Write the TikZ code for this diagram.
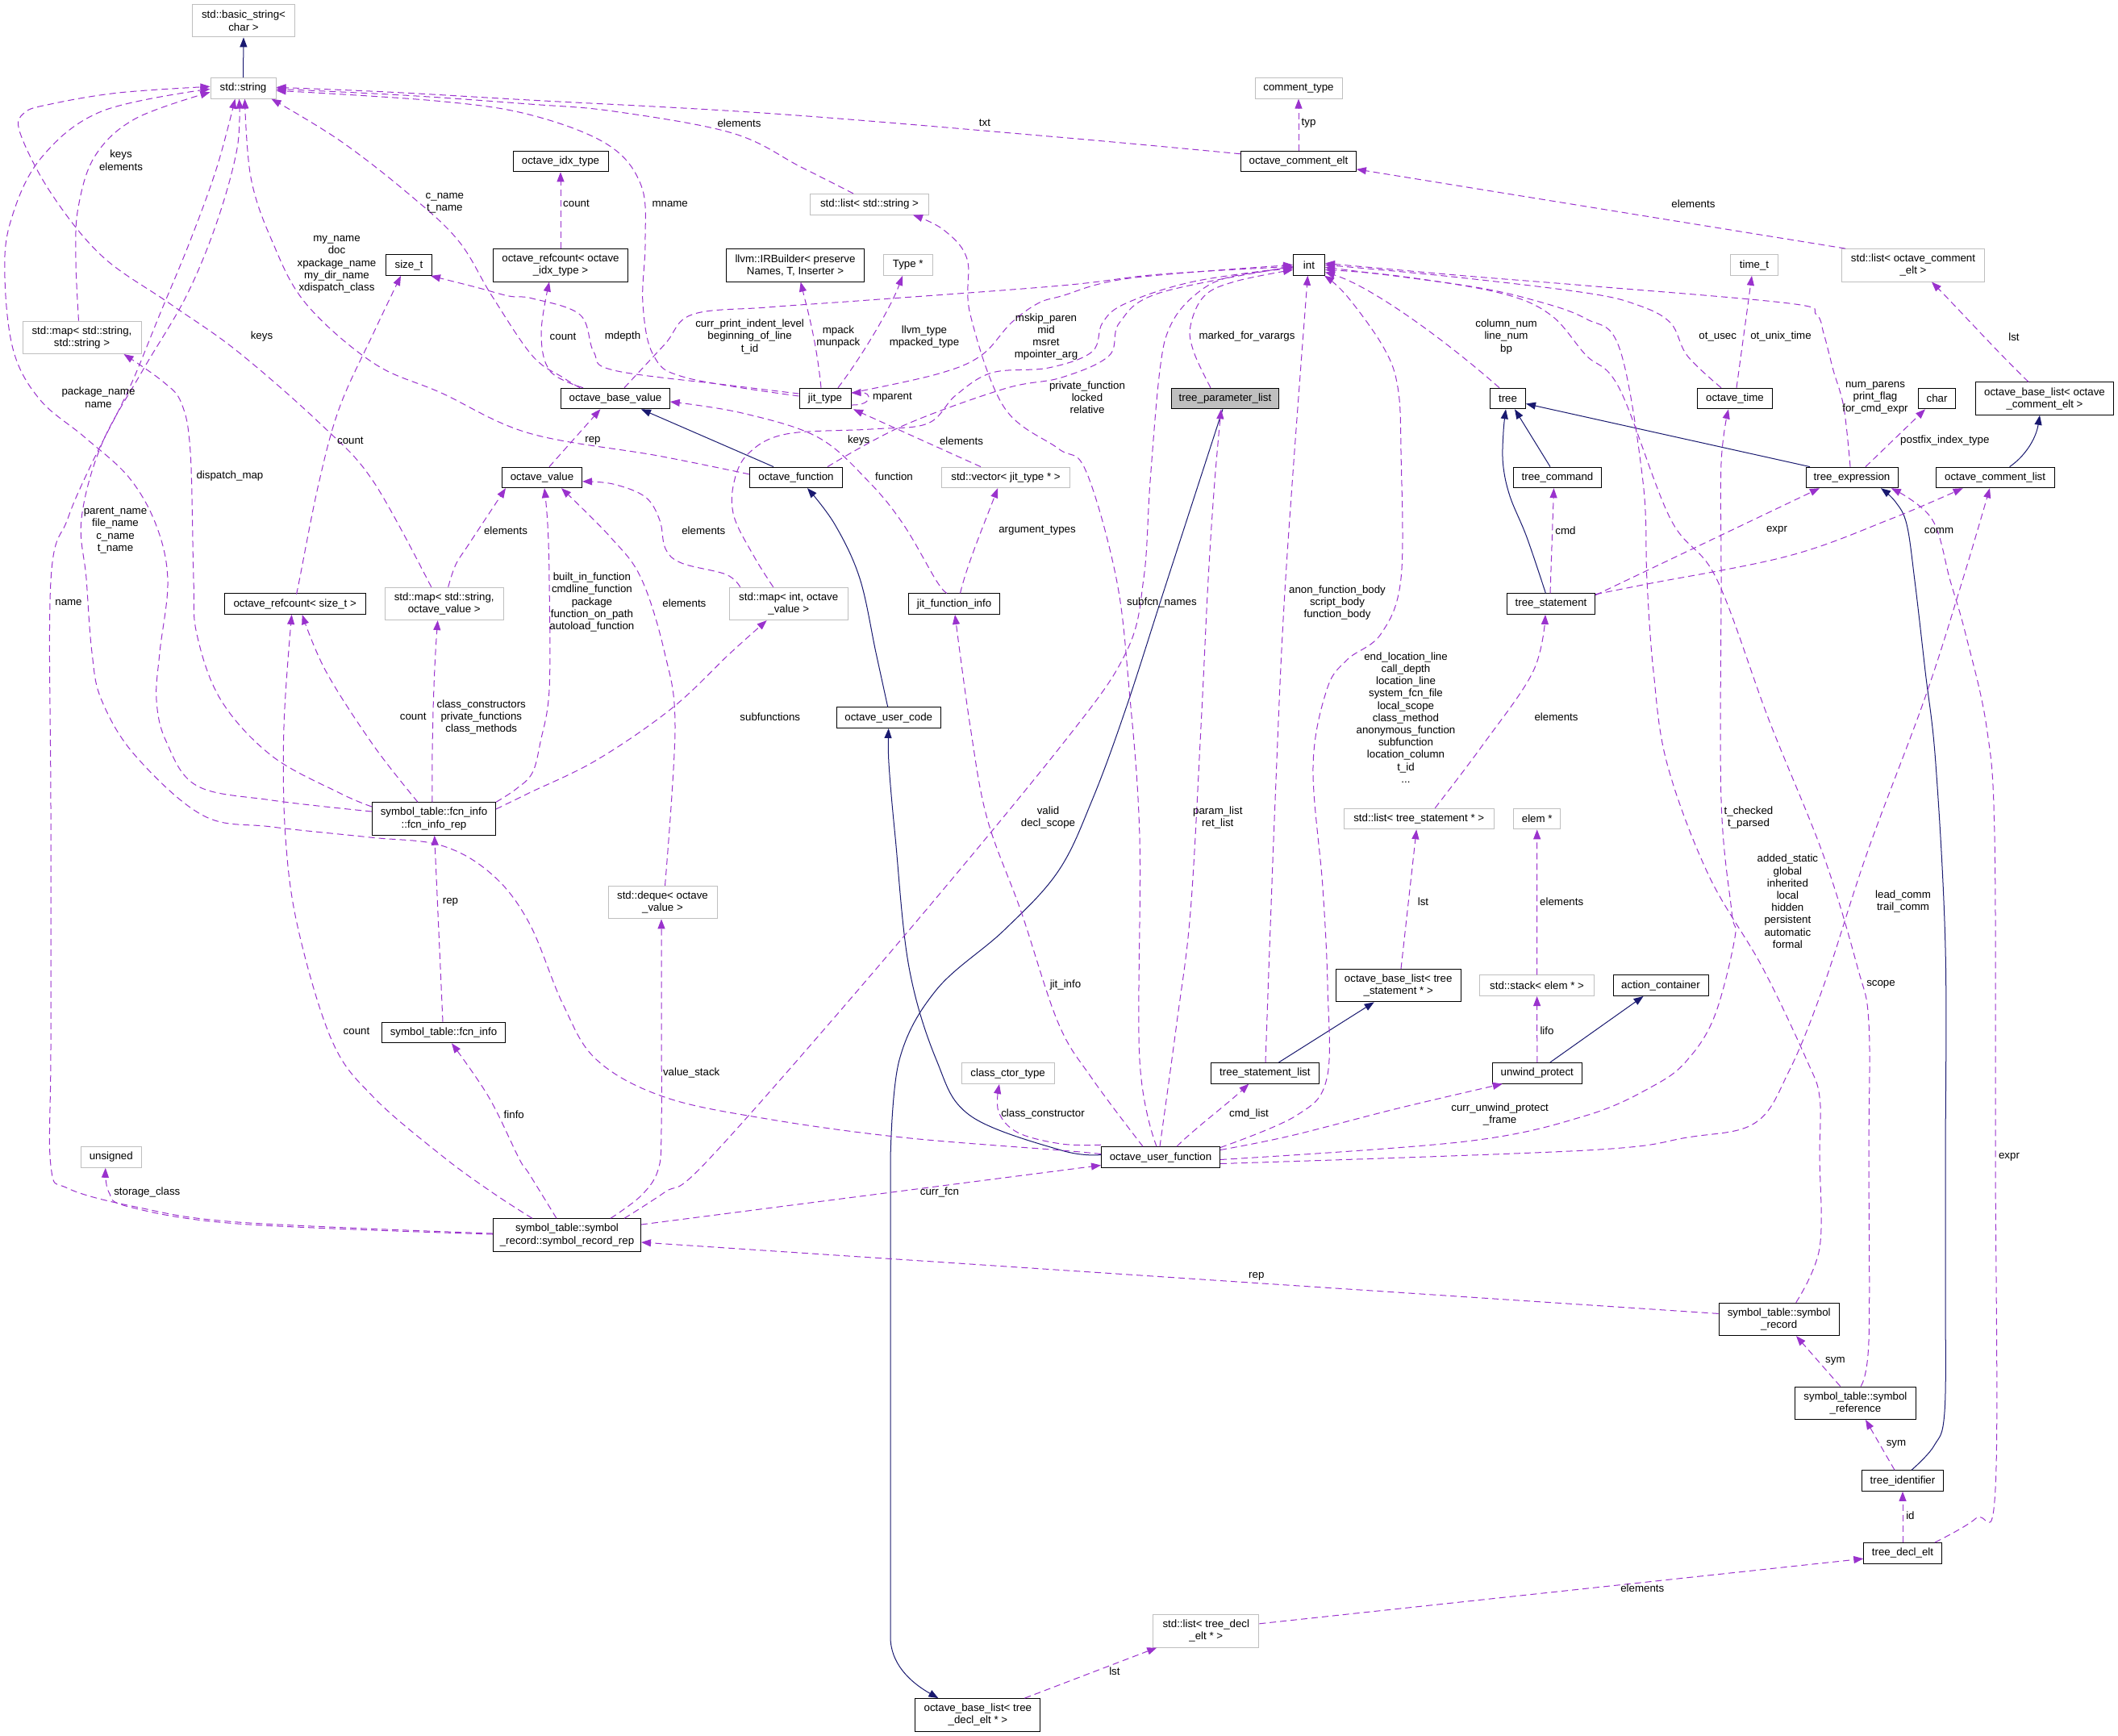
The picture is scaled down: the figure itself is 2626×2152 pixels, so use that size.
\documentclass[tikz,border=0pt]{standalone}
\usepackage{fontspec}
\setmainfont{Liberation Sans}
\usetikzlibrary{arrows.meta}
\definecolor{usecol}{HTML}{9A32CD}
\definecolor{navyc}{HTML}{191970}
\definecolor{boxgray}{HTML}{BFBFBF}
\tikzset{
 every node/.style={font=\fontsize{13.3}{15.2}\selectfont},
 cls/.style={draw=black, line width=1pt, inner sep=0pt, align=center, minimum height=25.6pt},
 ext/.style={cls, draw=boxgray},
 two/.style={minimum height=40.4pt},
 lab/.style={inner sep=0pt, align=center},
 use/.style={draw=usecol, line width=1pt, dash pattern=on 8pt off 5pt, -{Triangle[length=12pt,width=9pt]}},
 inh/.style={draw=navyc, line width=1pt, -{Triangle[length=12pt,width=9pt]}},
 sm/.style={smooth, tension=0.6},
}
\begin{document}
\begin{tikzpicture}[x=1pt,y=-1pt]
\fill[white] (0,0) rectangle (2626,2152);
\useasboundingbox (0,0) rectangle (2626,2152);
% ---------- nodes ----------
\node[ext,two,minimum width=127] (bstr) at (302,25.7) {std::basic\_string<\\char >};
\node[ext,minimum width=81] (str) at (301.5,109.3) {std::string};
\node[ext,two,minimum width=147] (mapss) at (101.5,418.3) {std::map< std::string,\\std::string >};
\node[cls,minimum width=57] (sizet) at (507,328.6) {size\_t};
\node[cls,minimum width=118] (idx) at (695,200) {octave\_idx\_type};
\node[cls,two,minimum width=167] (rcidx) at (695,328.8) {octave\_refcount< octave\\\_idx\_type >};
\node[ext,minimum width=147] (liststr) at (1078,253.2) {std::list< std::string >};
\node[cls,two,minimum width=170.5] (irb) at (986,328.8) {llvm::IRBuilder< preserve\\Names, T, Inserter >};
\node[ext,minimum width=60.6] (typep) at (1125.7,328.6) {Type *};
\node[cls,minimum width=134.6] (obv) at (763,494) {octave\_base\_value};
\node[cls,minimum width=64] (jit) at (1023,494) {jit\_type};
\node[cls,minimum width=115] (ofn) at (987,591.9) {octave\_function};
\node[ext,minimum width=159] (vecjit) at (1247,591.9) {std::vector< jit\_type * >};
\node[cls,minimum width=99] (ov) at (672,591.9) {octave\_value};
\node[ext,minimum width=108] (ctype) at (1610,109.3) {comment\_type};
\node[cls,minimum width=142.7] (celt) at (1610,199.8) {octave\_comment\_elt};
\node[cls,minimum width=39] (int) at (1623,328.4) {int};
\node[cls,fill=boxgray,minimum width=133] (tpl) at (1519,494) {tree\_parameter\_list};
\node[cls,minimum width=44] (tree) at (1869.5,494) {tree};
\node[cls,minimum width=108.6] (tcmd) at (1931,591.9) {tree\_command};
\node[ext,minimum width=59] (timet) at (2175,328.6) {time\_t};
\node[ext,two,minimum width=177.6] (listce) at (2372,328.8) {std::list< octave\_comment\\\_elt >};
\node[cls,minimum width=93.4] (otime) at (2151,494) {octave\_time};
\node[cls,minimum width=46.3] (char) at (2401.6,494) {char};
\node[cls,two,minimum width=171] (blce) at (2535,494.1) {octave\_base\_list< octave\\\_comment\_elt >};
\node[cls,minimum width=114] (texpr) at (2296,591.9) {tree\_expression};
\node[cls,minimum width=147] (clist) at (2473.6,591.9) {octave\_comment\_list};
\node[cls,minimum width=175] (rcsize) at (365.7,748.7) {octave\_refcount< size\_t >};
\node[ext,two,minimum width=147] (mapsov) at (550.7,748.4) {std::map< std::string,\\octave\_value >};
\node[cls,two,minimum width=153] (fir) at (538,1015) {symbol\_table::fcn\_info\\::fcn\_info\_rep};
\node[cls,minimum width=153.6] (fi) at (550,1280) {symbol\_table::fcn\_info};
\node[ext,minimum width=74.4] (unsig) at (137.8,1434.5) {unsigned};
\node[ext,two,minimum width=147] (mapiov) at (977.7,748.4) {std::map< int, octave\\\_value >};
\node[cls,minimum width=113] (jfi) at (1183,748.7) {jit\_function\_info};
\node[cls,minimum width=128.8] (ouc) at (1101.7,889.7) {octave\_user\_code};
\node[ext,two,minimum width=135] (deque) at (821.5,1118.6) {std::deque< octave\\\_value >};
\node[ext,minimum width=115] (cctor) at (1249.6,1330.6) {class\_ctor\_type};
\node[cls,minimum width=109.4] (tstmt) at (1923,748.7) {tree\_statement};
\node[ext,minimum width=185.6] (liststmt) at (1759.2,1015) {std::list< tree\_statement * >};
\node[ext,minimum width=58.5] (elem) at (1905.7,1015) {elem *};
\node[cls,two,minimum width=155] (blstmt) at (1733.7,1221.6) {octave\_base\_list< tree\\\_statement * >};
\node[ext,minimum width=141.7] (stack) at (1905.6,1221.7) {std::stack< elem * >};
\node[cls,minimum width=134] (tsl) at (1568.4,1330.3) {tree\_statement\_list};
\node[cls,minimum width=111] (unwind) at (1905.8,1330.3) {unwind\_protect};
\node[cls,minimum width=147] (ouf) at (1439,1434.5) {octave\_user\_function};
\node[cls,minimum width=118] (actc) at (2059,1221.7) {action\_container};
\node[cls,two,minimum width=183] (srr) at (703,1531) {symbol\_table::symbol\\\_record::symbol\_record\_rep};
\node[cls,two,minimum width=155] (bldecl) at (1212.4,2125.8) {octave\_base\_list< tree\\\_decl\_elt * >};
\node[ext,two,minimum width=131] (listdecl) at (1495.3,2021.8) {std::list< tree\_decl\\\_elt * >};
\node[cls,two,minimum width=149.4] (srec) at (2205.7,1635.4) {symbol\_table::symbol\\\_record};
\node[cls,two,minimum width=149.4] (sref) at (2300.4,1739.2) {symbol\_table::symbol\\\_reference};
\node[cls,minimum width=100.2] (tid) at (2359,1835.6) {tree\_identifier};
\node[cls,minimum width=96.4] (tdecl) at (2359,1925.2) {tree\_decl\_elt};
% ---------- inheritance ----------
\draw[inh] (str.north) -- (bstr.south);
\draw[inh] ([xshift=-28]ofn.north) -- ([xshift=32]obv.south);
\draw[inh] plot[sm] coordinates {([xshift=-1]ouc.north) (1086,809) (1066,717) (1035,650) ([xshift=14]ofn.south)};
\draw[inh] plot[sm] coordinates {([yshift=3]ouf.west) (1316,1426) (1203,1383) (1161,1314) (1127,1199) (1110,1038) (1102,946) (ouc.south)};
\draw[inh] ([xshift=-9]tcmd.north) -- ([xshift=8.5]tree.south);
\draw[inh] plot[sm] coordinates {([xshift=-6.6]tstmt.north) (1893,666) (1872,615) (1863.5,575) (1864,535) ([xshift=-2.5]tree.south)};
\draw[inh] ([xshift=-52]texpr.north) -- ([yshift=-6.5]tree.east);
\draw[inh] ([xshift=18]clist.north) .. controls (2510,566) and (2524,545) .. ([xshift=-6]blce.south);
\draw[inh] ([xshift=17]tsl.north) -- ([xshift=-30]blstmt.south);
\draw[inh] ([xshift=16]unwind.north) -- ([xshift=-21.5]actc.south);
\draw[inh] plot[sm] coordinates {([xshift=11]tid.north) (2398,1792) (2411,1750) (2412,1600) (2412,1437) (2412,1176) (2400,947) (2387,832) (2374,720) (2364,650) (2350,622) ([xshift=36]texpr.south)};
\draw[inh] plot[sm] coordinates {([xshift=-3]tpl.south) (1447,720) (1396,878) (1354,992) (1312,1080) (1245,1153) (1161,1227) (1115,1314) (1104,1437)} -- (1104,2029) .. controls (1104,2062) and (1128,2085) .. ([xshift=-49]bldecl.north);
% ---------- usage ----------
\draw[use] plot[sm] coordinates {([xshift=-4]mapss.north) (94,321) (97,257) (118,193) (168,147) ([yshift=-5]str.west)};
\draw[use] plot[sm] coordinates {([yshift=9]fir.west) (337,992) (244,974) (206,919) (194,868) (198,809) (208,720) (194,652) (160,592) (105,542) (50,496) (17,436) (6,344) (13,275) (50,197) (126,138) ([yshift=-1]str.west)};
\draw[use] plot[sm] coordinates {([yshift=15]fir.west) (421,983) (337,937) (274,868) (244,786) (240,717) (236,560) (225,500) (202,473) ([xshift=52]mapss.south)};
\draw[use] plot[sm] coordinates {([yshift=2]srr.west) (295,1515) (168,1496) (84,1473) (63,1445) (63,1300) (63,1000) (63,720) (84,643) (114,574) (160,482) (198,390) (236,298) (269,207) ([xshift=-10]str.south)};
\draw[use] plot[sm] coordinates {([yshift=1]srr.west) (295,1517) (160,1496) (135,1478) ([xshift=-7]unsig.south)};
\draw[use] plot[sm] coordinates {([yshift=4]ouf.west) (1316,1426) (1119,1410) (951,1387) (824,1360) (740,1314) (698,1245) (656,1144) (610,1084) (547,1048) (459,1038) (337,1025) (252,1011) (168,937) (126,868) (114,809) (107,717) (101,643) (126,551) (177,459) (231,367) (269,275) (294,184) ([xshift=-5]str.south)};
\draw[use] plot[sm] coordinates {([xshift=-16]mapsov.north) (463,597) (400,528) (295,436) (210,376) (126,317) (63,239) (25,165) (30,140) (63,129) (147,115) ([yshift=2]str.west)};
\draw[use] plot[sm] coordinates {([xshift=-20]liststr.north) (993,207) (908,165) (761,138) (656,129) (500,118) ([yshift=-1]str.east)};
\draw[use] plot[sm] coordinates {([yshift=9]celt.west) (1312,170) (960,141) (656,124) (480,114) ([yshift=1]str.east)};
\draw[use] plot[sm] coordinates {([yshift=3]jit.west) (850,468) (810,440) (797,376) (800,300) (795,230) (753,179) (656,142) (540,125) ([yshift=-3]str.east)};
\draw[use] plot[sm] coordinates {([xshift=-44]obv.north) (698,468) (660,441) (610,367) (568,298) (505,239) (421,174) ([xshift=-6]str.south east)};
\draw[use] plot[sm] coordinates {([yshift=4]ofn.west) (816,565) (656,537) (547,487) (463,450) (379,376) (337,298) (311,220) ([xshift=2]str.south)};
\draw[use] plot[sm] coordinates {([xshift=2]rcsize.north) (371,720) (395,600) (421,505) (463,413) ([xshift=-10]sizet.south)};
\draw[use] plot[sm] coordinates {([yshift=6]jit.west) (908,478) (761,459) (736,436) (719,390) (660,370) (631,367) (590,356) ([xshift=-2]sizet.south east)};
\draw[use] (rcidx.north) -- (idx.south);
\draw[use] plot[sm] coordinates {([xshift=-40]obv.north) (682,460) (671,413) ([xshift=-14]rcidx.south)};
\draw[use] plot[sm] coordinates {([xshift=11]obv.north) (824,427) (858,390) (951,381) (1077,372) (1316,354) (1438,340) ([yshift=-2]int.west)};
\draw[use] ([xshift=9]ov.north) -- ([xshift=-18.6]obv.south);
\draw[use] plot[sm] coordinates {([xshift=-9]jfi.north) (1161,720) (1120,650) (1077,597) (1014,542) (920,512) ([yshift=-4]obv.east)};
\draw[use] ([xshift=-5]jit.north) .. controls (1012,420) and (1000,380) .. ([xshift=6.7]irb.south);
\draw[use] ([xshift=16]jit.north) .. controls (1070,440) and (1105,380) .. ([xshift=-6.7]typep.south);
\draw[use] ([yshift=-8]jit.east) .. controls (1082,503) and (1082,486) .. ([yshift=7]jit.east);
\draw[use] ([xshift=-31]vecjit.north) -- ([xshift=35]jit.south);
\draw[use] ([xshift=7.5]jfi.north) .. controls (1199,700) and (1220,650) .. ([xshift=-10]vecjit.south);
\draw[use] plot[sm] coordinates {([xshift=-22]ouf.north) (1354,1337) (1312,1268) (1266,1130) (1224,1015) (1203,901) ([xshift=1]jfi.south)};
\draw[use] plot[sm] coordinates {([yshift=2]ouf.north west) (1316,1418) (1262,1404) (1238,1378) ([xshift=-10.6]cctor.south)};
\draw[use] plot[sm] coordinates {([xshift=5]mapsov.north) (565,700) (581,675) (612,628) ([xshift=-45]ov.south)};
\draw[use] plot[sm] coordinates {(fir.north east) (640,978) (660,958) (670,920) (681,855) (681,720) (679,650) ([xshift=3]ov.south)};
\draw[use] plot[sm] coordinates {([yshift=12]fir.east) (656,983) (740,942) (833,878) (905,810) ([xshift=-27]mapiov.south)};
\draw[use] ([xshift=-2]fir.north) .. controls (535,920) and (538,830) .. ([xshift=-8]mapsov.south);
\draw[use] plot[sm] coordinates {([xshift=-20]fir.north) (463,924) (404,832) ([xshift=9]rcsize.south)};
\draw[use] plot[sm] coordinates {([xshift=-43]srr.north) (610,1478) (547,1432) (463,1360) (412,1291) (370,1153) (354,1038) (352,901) ([xshift=-4]rcsize.south)};
\draw[use] plot[sm] coordinates {([xshift=-13]srr.north) (656,1455) (644,1437) (606,1360) ([xshift=10]fi.south)};
\draw[use] plot[sm] coordinates {([xshift=54]srr.north) (795,1482) (816,1450) (820,1400) (820,1250) ([xshift=-1.5]deque.south)};
\draw[use] plot[sm] coordinates {([xshift=71]srr.north) (824,1478) (879,1437) (1100,1185) (1316,924) (1396,809) (1418,717) (1426,597) (1438,459) (1451,404) (1480,367) (1522,344) ([yshift=-4]int.west)};
\draw[use] ([yshift=13]srr.east) -- ([yshift=-10]ouf.west);
\draw[use] ([yshift=7]srec.west) -- ([yshift=-9]srr.east);
\draw[use] ([xshift=-18.7]sref.north) -- ([xshift=21.3]srec.south);
\draw[use] ([xshift=-10]tid.north) -- ([xshift=12.6]sref.south);
\draw[use] (tdecl.north) -- (tid.south);
\draw[use] ([yshift=9]listdecl.east) -- ([yshift=-7]tdecl.west);
\draw[use] ([xshift=58]bldecl.north) -- ([xshift=-61]listdecl.south);
\draw[use] ([xshift=3.3]blstmt.north) -- ([xshift=-3]liststmt.south);
\draw[use] (unwind.north) -- (stack.south);
\draw[use] (stack.north) -- (elem.south);
\draw[use] ([xshift=20]ouf.north) .. controls (1480,1400) and (1520,1370) .. ([xshift=-20]tsl.south);
\draw[use] plot[sm] coordinates {([yshift=9]ouf.east) (1600,1408) (1733,1374) ([xshift=-43]unwind.south)};
\draw[use] plot[sm] coordinates {([xshift=0.6]tsl.north) (1581,992) (1594,717) ([xshift=-1.6]int.south)};
\draw[use] plot[sm] coordinates {([yshift=12]ouf.east) (1607,1383) (1645,1337) (1646,1222) (1640,1100) (1628,950) (1645,855) (1670,818) (1712,786) (1737,717) (1737,560) (1733,480) (1715,430) (1670,367) ([xshift=19]int.south)};
\draw[use] ([xshift=-10.5]tree.north) .. controls (1790,420) and (1700,355) .. ([yshift=-9]int.east);
\draw[use] plot[sm] coordinates {([xshift=-18]tpl.north) (1480,436) (1476,404) (1493,367) (1531,349) ([yshift=-6]int.west)};
\draw[use] plot[sm] coordinates {([yshift=7]jit.east) (1161,464) (1216,441) (1254,400) (1287,376) (1316,367) (1400,345) (int.west)};
\draw[use] plot[sm] coordinates {([xshift=39]ofn.north) (1119,528) (1245,482) (1316,468) (1375,441) (1388,400) (1438,363) ([yshift=-2]int.west)};
\draw[use] plot[sm] coordinates {([xshift=-19]mapiov.north) (935,690) (910,640) (910,598) (928,562) (975,538) (1080,532) (1150,525) (1185,490) (1230,462) (1300,456) (1354,436) (1367,400) (1396,376) (1480,349) ([yshift=-3]int.west)};
\draw[use] plot[sm] coordinates {([xshift=-5]ouf.north) (1413,1314) (1413,1038) (1400,855) (1384,717) (1346,583) (1312,556) (1245,505) (1203,390) (1199,321) (1170,285) ([xshift=54]liststr.south)};
\draw[use] plot[sm] coordinates {([xshift=-1]ouf.north) (1459,1268) (1476,1130) (1489,901) (1498,718) (1506,597) ([xshift=-5]tpl.south)};
\draw[use] ([yshift=11]tstmt.east) -- ([xshift=-40]texpr.south);
\draw[use] plot[sm] coordinates {([yshift=12]tstmt.east) (2042,724) (2218,689) (2345,643) ([xshift=-40]clist.south)};
\draw[use] ([xshift=-1]tstmt.north) -- ([xshift=-4.5]tcmd.south);
\draw[use] plot[sm] coordinates {([xshift=20]liststmt.north) (1838,924) (1901,832) ([xshift=-7]tstmt.south)};
\draw[use] plot[sm] coordinates {([xshift=-2]texpr.north) (2286,505) (2273,459) (2261,413) (2252,390) (2218,376) (1966,354) (1817,342) ([yshift=2]int.east)};
\draw[use] ([xshift=17]texpr.north) -- ([xshift=-14.6]char.south);
\draw[use] ([xshift=2]otime.north) -- ([xshift=-3]timet.south);
\draw[use] plot[sm] coordinates {([xshift=-17]otime.north) (2092,441) (2071,400) (2030,378) (1966,363) (1800,343) (int.east)};
\draw[use] ([xshift=-20]blce.north) .. controls (2480,440) and (2430,385) .. ([xshift=23]listce.south);
\draw[use] ([xshift=-84]listce.north) -- ([yshift=-10]celt.east);
\draw[use] (celt.north) -- (ctype.south);
\draw[use] plot[sm] coordinates {([xshift=21]srec.north) (2256,1547) (2256,1432) (2256,1360) (2240,1314) (2185,1199) (2118,1084) (2067,947) (2050,832) (2042,720) (2037,597) (2008,432) (1966,395) (1901,372) (1817,354) ([yshift=-3]int.east)};
\draw[use] plot[sm] coordinates {([xshift=6.6]sref.north) (2317,1662) (2317,1432) (2317,1268) (2303,1199) (2261,1061) (2193,892) (2128,717) (2071,643) (2008,482) (1966,440) (1922,390) (1859,363) (1733,342) ([yshift=-6]int.east)};
\draw[use] plot[sm] coordinates {([yshift=-3]ouf.east) (1817,1415) (1966,1383) (2050,1346) (2092,1314) (2126,1259) (2151,1162) (2147,1130) (2134,992) (2134,720) (2134,574) ([xshift=-8]otime.south)};
\draw[use] plot[sm] coordinates {([yshift=-8]ouf.east) (1966,1426) (2092,1410) (2176,1392) (2218,1328) (2261,1222) (2315,1057) (2387,864) (2433,720) ([xshift=-6.6]clist.south)};
\draw[use] plot[sm] coordinates {([xshift=40]tdecl.north) (2450,1882) (2474,1845) (2474,1432) (2473,1038) (2463,901) (2437,786) (2418,720) (2395,643) ([xshift=48.8]texpr.south)};
\draw[use] plot[sm] coordinates {([xshift=3]deque.north) (837,901) (824,809) (795,717) (757,666) ([xshift=24]ov.south)};
\draw[use] plot[sm] coordinates {([xshift=-60]mapiov.north) (900,712) (845,698) (825,680) (818,645) (800,616) (760,600) ([yshift=-5]ov.east)};
\draw[use] ([xshift=-1]fi.north) -- ([xshift=0.7]fir.south);
% ---------- labels ----------
\node[lab] (l1) at (150,198.8) {keys\\elements};
\node[lab] (l2) at (551.4,252) {c\_name\\t\_name};
\node[lab] (l3) at (417.5,327.8) {my\_name\\doc\\xpackage\_name\\my\_dir\_name\\xdispatch\_class};
\node[lab] (l4) at (324.5,417.4) {keys};
\node[lab] (l5) at (122,492.7) {package\_name\\name};
\node[lab] (l6) at (434.4,546.4) {count};
\node[lab] (l7) at (285,590.5) {dispatch\_map};
\node[lab] (l8) at (143,657.5) {parent\_name\\file\_name\\c\_name\\t\_name};
\node[lab] (l9) at (627,657.5) {elements};
\node[lab] (l10) at (916.5,152.4) {elements};
\node[lab] (l11) at (1221,152.4) {txt};
\node[lab] (l12) at (714.5,252.5) {count};
\node[lab] (l13) at (830.7,252.5) {mname};
\node[lab] (l14) at (698,417.4) {count};
\node[lab] (l15) at (772,417.4) {mdepth};
\node[lab] (l16) at (929.6,417.4) {curr\_print\_indent\_level\\beginning\_of\_line\\t\_id};
\node[lab] (l17) at (1039.4,417.4) {mpack\\munpack};
\node[lab] (l18) at (1146,417.4) {llvm\_type\\mpacked\_type};
\node[lab] (l19) at (1297,417.4) {mskip\_paren\\mid\\msret\\mpointer\_arg};
\node[lab] (l20) at (1106.4,492.7) {mparent};
\node[lab] (l21) at (735,546.4) {rep};
\node[lab] (l22) at (1064.7,546.4) {keys};
\node[lab] (l23) at (1192,546.4) {elements};
\node[lab] (l24) at (1108.5,590.5) {function};
\node[lab] (l25) at (872.3,657.5) {elements};
\node[lab] (l26) at (1286,657.5) {argument\_types};
\node[lab] (l27) at (1622.6,152.9) {typ};
\node[lab] (l28) at (1546,417.4) {marked\_for\_varargs};
\node[lab] (l29) at (1867.5,417.4) {column\_num\\line\_num\\bp};
\node[lab] (l30) at (1348,492.7) {private\_function\\locked\\relative};
\node[lab] (l31) at (1941,657.5) {cmd};
\node[lab] (l32) at (2099.4,252.5) {elements};
\node[lab] (l33) at (2129.7,417.4) {ot\_usec};
\node[lab] (l34) at (2208,417.4) {ot\_unix\_time};
\node[lab] (l35) at (2325,493) {num\_parens\\print\_flag\\for\_cmd\_expr};
\node[lab] (l36) at (2497,417.4) {lst};
\node[lab] (l37) at (2411.3,546.4) {postfix\_index\_type};
\node[lab] (l38) at (2203,657.5) {expr};
\node[lab] (l39) at (2404,657.5) {comm};
\node[lab] (l40) at (85,747.3) {name};
\node[lab] (l41) at (512.2,888.3) {count};
\node[lab] (l42) at (596.8,889.2) {class\_constructors\\private\_functions\\class\_methods};
\node[lab] (l43) at (558.5,1117.8) {rep};
\node[lab] (l44) at (442,1278) {count};
\node[lab] (l45) at (637.3,1381.4) {finfo};
\node[lab] (l46) at (733.9,746.5) {built\_in\_function\\cmdline\_function\\package\\function\_on\_path\\autoload\_function};
\node[lab] (l47) at (848.4,747.3) {elements};
\node[lab] (l48) at (954.8,888.3) {subfunctions};
\node[lab] (l49) at (1299.5,1013.7) {valid\\decl\_scope};
\node[lab] (l50) at (857.2,1329.5) {value\_stack};
\node[lab] (l51) at (1321,1220.7) {jit\_info};
\node[lab] (l52) at (1293,1381.4) {class\_constructor};
\node[lab] (l53) at (1440.4,747.3) {subfcn\_names};
\node[lab] (l54) at (1658,747.3) {anon\_function\_body\\script\_body\\function\_body};
\node[lab] (l55) at (1743,889.4) {end\_location\_line\\call\_depth\\location\_line\\system\_fcn\_file\\local\_scope\\class\_method\\anonymous\_function\\subfunction\\location\_column\\t\_id\\...};
\node[lab] (l56) at (1929.5,888.3) {elements};
\node[lab] (l57) at (1509.8,1013.7) {param\_list\\ret\_list};
\node[lab] (l58) at (1764.5,1117.4) {lst};
\node[lab] (l59) at (1936.2,1117.4) {elements};
\node[lab] (l60) at (1918,1278) {lifo};
\node[lab] (l61) at (1548.5,1381.4) {cmd\_list};
\node[lab] (l62) at (1859.6,1381.4) {curr\_unwind\_protect\\\_frame};
\node[lab] (l63) at (2168,1013.7) {t\_checked\\t\_parsed};
\node[lab] (l64) at (2216.4,1117.4) {added\_static\\global\\inherited\\local\\hidden\\persistent\\automatic\\formal};
\node[lab] (l65) at (2359.5,1117.4) {lead\_comm\\trail\_comm};
\node[lab] (l66) at (2332,1220.7) {scope};
\node[lab] (l67) at (2491,1434) {expr};
\node[lab] (l68) at (182.3,1478.4) {storage\_class};
\node[lab] (l69) at (1164.9,1478.4) {curr\_fcn};
\node[lab] (l70) at (1557.8,1582.6) {rep};
\node[lab] (l71) at (1381.9,2072) {lst};
\node[lab] (l72) at (2275.4,1686.8) {sym};
\node[lab] (l73) at (2351,1790.6) {sym};
\node[lab] (l74) at (2368.4,1879.2) {id};
\node[lab] (l75) at (2036.3,1968.3) {elements};
\end{tikzpicture}
\end{document}
